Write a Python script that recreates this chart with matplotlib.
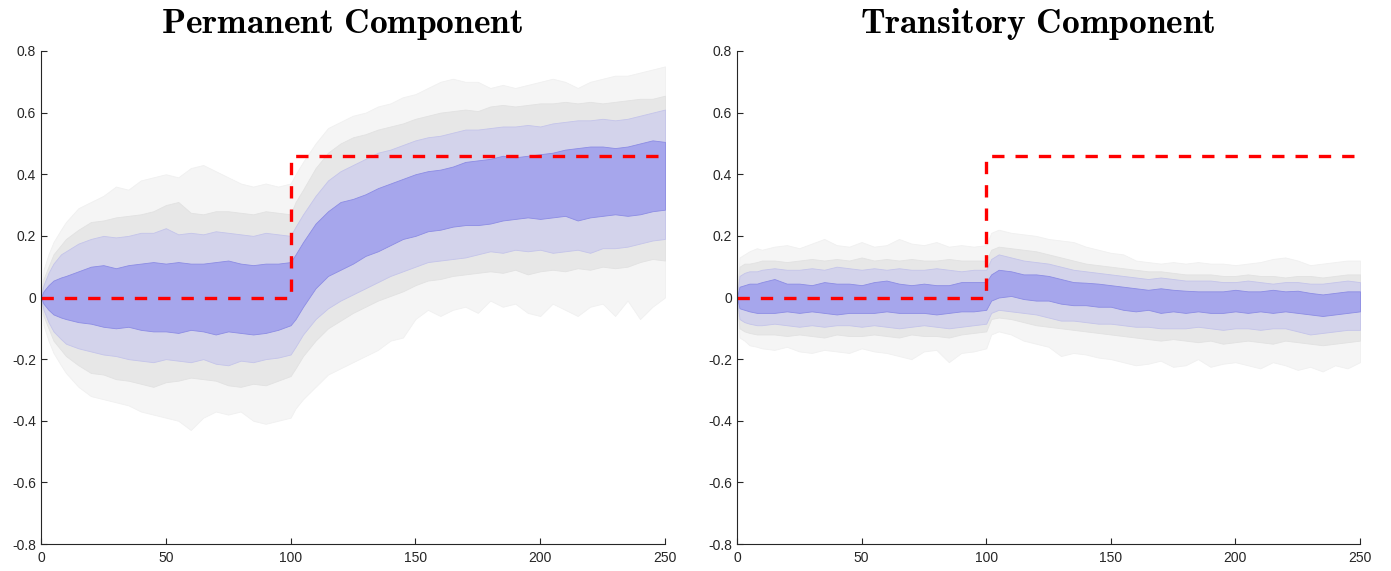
import matplotlib
matplotlib.use("Agg")
import matplotlib.pyplot as plt
from matplotlib.ticker import FuncFormatter

plt.rcParams["font.family"] = ["Liberation Sans", "DejaVu Sans"]
plt.rcParams["mathtext.fontset"] = "cm"

# horizon grid shared by all bands
t = [0, 1, 3, 5, 8, 10, 15, 20, 25, 30, 35, 40, 45, 50, 55, 60, 65, 70, 75, 80,
     85, 90, 95, 100, 102, 105, 110, 115, 120, 125, 130, 135, 140, 145, 150,
     155, 160, 165, 170, 175, 180, 185, 190, 195, 200, 205, 210, 215, 220, 225,
     230, 235, 240, 245, 250]

# true shock path
shock_x = [0, 100, 250]
shock_y = [0, 0.46, 0.46]

# permanent component: posterior bands (outer, gray, inner, core)
perm_outer_hi = [0, 0.09, 0.14, 0.18, 0.22, 0.245, 0.29, 0.31, 0.33, 0.36, 0.35, 0.38, 0.39, 0.40,
                 0.39, 0.42, 0.43, 0.41, 0.39, 0.37, 0.36, 0.37, 0.36, 0.37, 0.40, 0.44, 0.50, 0.55,
                 0.57, 0.59, 0.60, 0.62, 0.63, 0.65, 0.66, 0.68, 0.70, 0.71, 0.70, 0.70, 0.68, 0.69,
                 0.68, 0.69, 0.70, 0.71, 0.70, 0.68, 0.70, 0.71, 0.72, 0.72, 0.73, 0.74, 0.75]
perm_outer_lo = [0, -0.09, -0.14, -0.18, -0.22, -0.245, -0.29, -0.32, -0.33, -0.34, -0.35, -0.37,
                 -0.38, -0.39, -0.40, -0.43, -0.39, -0.37, -0.38, -0.37, -0.40, -0.41, -0.40, -0.39,
                 -0.36, -0.33, -0.29, -0.25, -0.23, -0.21, -0.19, -0.17, -0.14, -0.13, -0.07, -0.04,
                 -0.06, -0.04, -0.03, -0.05, -0.01, -0.03, -0.02, -0.05, -0.06, -0.02, -0.04, -0.06,
                 -0.03, -0.02, -0.06, -0.01, -0.07, -0.03, 0.0]
perm_gray_hi = [0, 0.06, 0.10, 0.14, 0.17, 0.19, 0.22, 0.245, 0.25, 0.26, 0.265, 0.27, 0.28, 0.30,
                0.31, 0.275, 0.27, 0.28, 0.28, 0.275, 0.27, 0.28, 0.275, 0.27, 0.31, 0.35, 0.42,
                0.47, 0.50, 0.52, 0.53, 0.545, 0.555, 0.565, 0.58, 0.59, 0.60, 0.605, 0.61, 0.605,
                0.62, 0.625, 0.62, 0.625, 0.63, 0.63, 0.635, 0.63, 0.635, 0.63, 0.635, 0.64, 0.645,
                0.645, 0.655]
perm_gray_lo = [0, -0.06, -0.10, -0.14, -0.17, -0.19, -0.22, -0.245, -0.25, -0.265, -0.27, -0.28,
                -0.29, -0.275, -0.27, -0.26, -0.265, -0.27, -0.285, -0.29, -0.28, -0.285, -0.27,
                -0.255, -0.23, -0.19, -0.14, -0.10, -0.075, -0.05, -0.03, -0.01, 0.005, 0.02, 0.04,
                0.055, 0.06, 0.07, 0.075, 0.08, 0.085, 0.08, 0.09, 0.075, 0.085, 0.09, 0.085, 0.095,
                0.09, 0.10, 0.095, 0.10, 0.115, 0.125, 0.12]
perm_inner_hi = [0, 0.04, 0.08, 0.11, 0.14, 0.15, 0.175, 0.19, 0.20, 0.195, 0.20, 0.21, 0.21, 0.225,
                 0.205, 0.21, 0.205, 0.215, 0.21, 0.205, 0.20, 0.21, 0.205, 0.20, 0.23, 0.27, 0.33,
                 0.38, 0.41, 0.43, 0.45, 0.47, 0.48, 0.495, 0.51, 0.52, 0.525, 0.535, 0.545, 0.545,
                 0.55, 0.555, 0.555, 0.56, 0.555, 0.565, 0.57, 0.575, 0.575, 0.58, 0.575, 0.58, 0.59,
                 0.60, 0.61]
perm_inner_lo = [0, -0.04, -0.08, -0.11, -0.135, -0.15, -0.165, -0.175, -0.185, -0.19, -0.20, -0.205,
                 -0.21, -0.20, -0.205, -0.21, -0.20, -0.215, -0.22, -0.205, -0.21, -0.20, -0.195,
                 -0.185, -0.16, -0.12, -0.07, -0.035, -0.01, 0.01, 0.03, 0.05, 0.07, 0.085, 0.10,
                 0.115, 0.12, 0.125, 0.13, 0.14, 0.15, 0.145, 0.155, 0.15, 0.155, 0.145, 0.15, 0.155,
                 0.145, 0.16, 0.16, 0.165, 0.175, 0.185, 0.19]
perm_core_hi = [0, 0.02, 0.04, 0.055, 0.065, 0.07, 0.085, 0.10, 0.105, 0.095, 0.105, 0.11, 0.115,
                0.11, 0.115, 0.11, 0.11, 0.115, 0.12, 0.11, 0.105, 0.11, 0.11, 0.115, 0.14, 0.18,
                0.24, 0.28, 0.31, 0.32, 0.335, 0.355, 0.37, 0.385, 0.40, 0.41, 0.415, 0.425, 0.44,
                0.445, 0.45, 0.46, 0.455, 0.46, 0.465, 0.47, 0.48, 0.485, 0.49, 0.49, 0.485, 0.49,
                0.50, 0.51, 0.505]
perm_core_lo = [0, -0.02, -0.04, -0.055, -0.065, -0.07, -0.08, -0.085, -0.095, -0.10, -0.095, -0.105,
                -0.11, -0.11, -0.115, -0.105, -0.11, -0.12, -0.11, -0.115, -0.12, -0.115, -0.105,
                -0.09, -0.07, -0.03, 0.03, 0.07, 0.09, 0.11, 0.135, 0.15, 0.17, 0.19, 0.20, 0.215,
                0.22, 0.23, 0.235, 0.235, 0.24, 0.25, 0.255, 0.26, 0.255, 0.26, 0.265, 0.25, 0.26,
                0.265, 0.27, 0.265, 0.27, 0.28, 0.285]

# transitory component
trans_outer_hi = [0, 0.13, 0.14, 0.15, 0.16, 0.155, 0.165, 0.17, 0.16, 0.175, 0.19, 0.17, 0.165,
                  0.18, 0.165, 0.17, 0.19, 0.175, 0.17, 0.18, 0.165, 0.17, 0.165, 0.17, 0.21, 0.22,
                  0.21, 0.205, 0.20, 0.19, 0.185, 0.18, 0.165, 0.155, 0.145, 0.14, 0.12, 0.115, 0.11,
                  0.115, 0.11, 0.115, 0.11, 0.11, 0.105, 0.11, 0.115, 0.125, 0.13, 0.12, 0.105, 0.11,
                  0.115, 0.12, 0.12]
trans_outer_lo = [0, -0.13, -0.14, -0.155, -0.16, -0.165, -0.17, -0.16, -0.175, -0.18, -0.17,
                  -0.175, -0.18, -0.165, -0.175, -0.18, -0.19, -0.20, -0.175, -0.17, -0.21, -0.18,
                  -0.175, -0.165, -0.12, -0.11, -0.12, -0.14, -0.15, -0.16, -0.19, -0.18, -0.185,
                  -0.195, -0.20, -0.21, -0.22, -0.215, -0.205, -0.225, -0.22, -0.20, -0.225, -0.215,
                  -0.21, -0.22, -0.23, -0.21, -0.22, -0.235, -0.225, -0.24, -0.22, -0.23, -0.21]
trans_gray_hi = [0, 0.10, 0.11, 0.11, 0.115, 0.12, 0.12, 0.115, 0.12, 0.125, 0.12, 0.125, 0.12, 0.13,
                 0.12, 0.125, 0.12, 0.125, 0.12, 0.12, 0.125, 0.12, 0.12, 0.12, 0.155, 0.165, 0.16,
                 0.155, 0.15, 0.14, 0.13, 0.12, 0.11, 0.105, 0.10, 0.095, 0.09, 0.085, 0.085, 0.08,
                 0.075, 0.075, 0.075, 0.07, 0.07, 0.075, 0.07, 0.07, 0.065, 0.07, 0.07, 0.065, 0.07,
                 0.075, 0.075]
trans_gray_lo = [0, -0.10, -0.11, -0.115, -0.12, -0.12, -0.12, -0.125, -0.12, -0.125, -0.13, -0.12,
                 -0.125, -0.125, -0.12, -0.125, -0.13, -0.12, -0.125, -0.125, -0.13, -0.12, -0.115,
                 -0.11, -0.07, -0.065, -0.07, -0.08, -0.09, -0.095, -0.10, -0.105, -0.11, -0.115,
                 -0.12, -0.125, -0.13, -0.135, -0.14, -0.135, -0.14, -0.145, -0.14, -0.15, -0.145,
                 -0.14, -0.145, -0.15, -0.14, -0.145, -0.15, -0.155, -0.15, -0.145, -0.14]
trans_inner_hi = [0, 0.07, 0.08, 0.085, 0.085, 0.09, 0.095, 0.09, 0.09, 0.095, 0.09, 0.10, 0.095,
                  0.09, 0.095, 0.09, 0.095, 0.09, 0.09, 0.095, 0.09, 0.085, 0.09, 0.09, 0.125, 0.14,
                  0.13, 0.12, 0.115, 0.11, 0.10, 0.09, 0.085, 0.08, 0.075, 0.07, 0.065, 0.06, 0.065,
                  0.06, 0.055, 0.055, 0.055, 0.05, 0.05, 0.055, 0.05, 0.045, 0.05, 0.05, 0.045, 0.045,
                  0.05, 0.055, 0.05]
trans_inner_lo = [0, -0.07, -0.08, -0.085, -0.09, -0.09, -0.085, -0.09, -0.095, -0.09, -0.095,
                  -0.09, -0.09, -0.095, -0.09, -0.095, -0.10, -0.095, -0.09, -0.095, -0.10, -0.095,
                  -0.09, -0.085, -0.05, -0.04, -0.045, -0.05, -0.055, -0.065, -0.075, -0.075, -0.08,
                  -0.085, -0.085, -0.09, -0.095, -0.095, -0.10, -0.10, -0.10, -0.095, -0.10, -0.105,
                  -0.10, -0.10, -0.105, -0.10, -0.10, -0.11, -0.12, -0.115, -0.11, -0.105, -0.105]
trans_core_hi = [0, 0.035, 0.04, 0.045, 0.045, 0.05, 0.06, 0.045, 0.045, 0.04, 0.05, 0.045, 0.045,
                 0.04, 0.05, 0.055, 0.045, 0.04, 0.045, 0.04, 0.04, 0.05, 0.05, 0.05, 0.075, 0.09,
                 0.085, 0.075, 0.075, 0.07, 0.06, 0.05, 0.048, 0.045, 0.04, 0.035, 0.03, 0.025, 0.03,
                 0.025, 0.022, 0.02, 0.02, 0.02, 0.025, 0.02, 0.02, 0.025, 0.02, 0.022, 0.015, 0.01,
                 0.015, 0.02, 0.02]
trans_core_lo = [0, -0.035, -0.04, -0.045, -0.05, -0.05, -0.05, -0.045, -0.05, -0.045, -0.05, -0.055,
                 -0.05, -0.05, -0.05, -0.045, -0.05, -0.05, -0.05, -0.055, -0.05, -0.045, -0.045,
                 -0.04, -0.01, 0.0, 0.005, -0.005, -0.01, -0.01, -0.02, -0.025, -0.025, -0.03, -0.03,
                 -0.04, -0.045, -0.04, -0.05, -0.045, -0.05, -0.045, -0.05, -0.05, -0.045, -0.05,
                 -0.045, -0.05, -0.045, -0.05, -0.055, -0.06, -0.055, -0.05, -0.045]

panels = [
    ("Permanent\\ Component",
     [(perm_outer_lo, perm_outer_hi), (perm_gray_lo, perm_gray_hi),
      (perm_inner_lo, perm_inner_hi), (perm_core_lo, perm_core_hi)]),
    ("Transitory\\ Component",
     [(trans_outer_lo, trans_outer_hi), (trans_gray_lo, trans_gray_hi),
      (trans_inner_lo, trans_inner_hi), (trans_core_lo, trans_core_hi)]),
]
band_colors = ["#f5f5f5", "#e7e7e7", "#d3d3eb", "#a6a6ec"]
edge_colors = ["#f0f0f0", "#e2e2e2", "#c4c4ea", "#8c8ce4"]

fig = plt.figure(figsize=(13.91, 5.71), dpi=100)
axes_pos = [[41 / 1391, 27 / 571, 624 / 1391, 493 / 571],
            [737 / 1391, 27 / 571, 623 / 1391, 493 / 571]]

for pos, (title, bands) in zip(axes_pos, panels):
    ax = fig.add_axes(pos)
    for (lo, hi), fc, ec in zip(bands, band_colors, edge_colors):
        ax.fill_between(t, lo, hi, facecolor=fc, edgecolor=ec, linewidth=0.6)
    ax.step(shock_x, shock_y, where="post", color="red", linewidth=2.4,
            linestyle=(0, (3.7, 3.3)))

    ax.set_xlim(0, 250)
    ax.set_ylim(-0.8, 0.8)
    ax.set_xticks([0, 50, 100, 150, 200, 250])
    ax.set_yticks([-0.8, -0.6, -0.4, -0.2, 0, 0.2, 0.4, 0.6, 0.8])
    ax.yaxis.set_major_formatter(FuncFormatter(lambda v, p: "0" if abs(v) < 1e-9 else f"{v:g}"))
    ax.tick_params(direction="in", length=4, width=0.8, colors="#262626", labelsize=10)
    ax.tick_params(axis="x", pad=5)
    for side in ["top", "right"]:
        ax.spines[side].set_visible(False)
    for side in ["left", "bottom"]:
        ax.spines[side].set_color("#262626")
        ax.spines[side].set_linewidth(0.8)
    ax.set_title(r"$\mathbf{" + title + "}$", fontsize=25.5, x=0.483, pad=13)

fig.savefig("out.png", dpi=100)
